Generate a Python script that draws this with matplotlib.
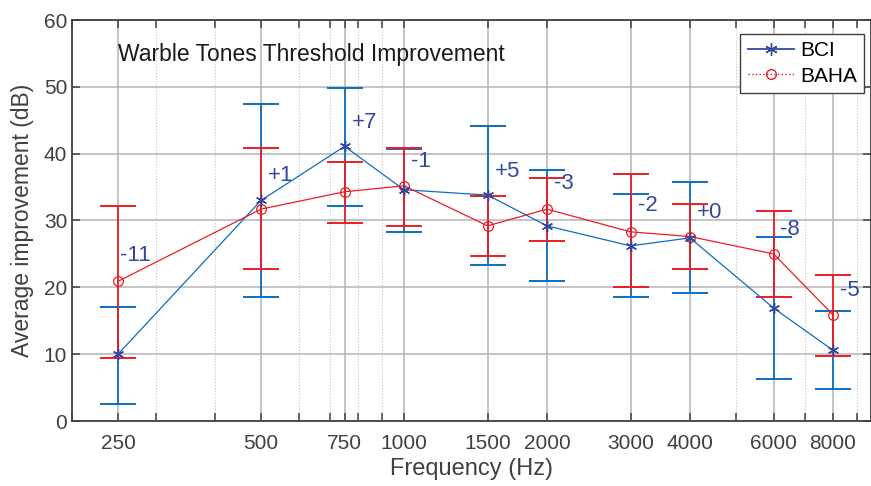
import numpy as np
import matplotlib
matplotlib.use('Agg')
import matplotlib.pyplot as plt
from matplotlib.lines import Line2D
from matplotlib.ticker import FixedLocator, NullFormatter, LogLocator

plt.rcParams['font.family'] = ['Liberation Sans', 'DejaVu Sans']

# data
freq = np.array([250, 500, 750, 1000, 1500, 2000, 3000, 4000, 6000, 8000])
bci = np.array([10.0, 33.0, 41.1, 34.6, 33.8, 29.2, 26.2, 27.4, 16.9, 10.6])
bci_hi = np.array([17.1, 47.5, 49.9, 40.7, 44.2, 37.5, 33.9, 35.8, 27.6, 16.5])
bci_lo = np.array([2.6, 18.6, 32.2, 28.3, 23.4, 20.9, 18.5, 19.1, 6.3, 4.8])
baha = np.array([20.9, 31.7, 34.3, 35.2, 29.2, 31.7, 28.3, 27.6, 25.0, 15.9])
baha_hi = np.array([32.2, 40.8, 38.7, 40.9, 33.7, 36.4, 36.9, 32.4, 31.4, 21.9])
baha_lo = np.array([9.5, 22.8, 29.7, 29.2, 24.7, 27.0, 20.0, 22.8, 18.6, 9.8])
diff_labels = ['-11', '+1', '+7', '-1', '+5', '-3', '-2', '+0', '-8', '-5']
label_y = [24.8, 36.8, 44.6, 38.8, 37.4, 35.6, 32.3, 31.2, 28.7, 19.5]

blue = '#0a6fc0'
navy = '#34479e'
red = '#ee1c24'
axcol = '#404040'
asterisk = (6, 2, 0)

fig = plt.figure(figsize=(8.71, 4.86), dpi=100)
ax = fig.add_axes([72/871, 1-421/486, 798.5/871, 401/486])
ax.set_xscale('log')
ax.set_xlim(200, 9600)
ax.set_ylim(0, 60)

ax.grid(True, which='major', color='#b4b4b8', lw=1.1, ls='-')
ax.grid(True, which='minor', color='#c4c4c8', lw=0.8, ls=':')
ax.set_axisbelow(True)

# BCI
ax.errorbar(freq, bci, yerr=[bci - bci_lo, bci_hi - bci], fmt='none',
            ecolor=blue, elinewidth=1.3, capsize=13, capthick=1.4, zorder=3)
ax.plot(freq, bci, color=blue, lw=0.9, zorder=4)
ax.plot(freq, bci, ls='none', marker=asterisk, ms=8, mew=1.0, color=navy, zorder=5)

# BAHA
ax.errorbar(freq, baha, yerr=[baha - baha_lo, baha_hi - baha], fmt='none',
            ecolor=red, elinewidth=1.3, capsize=13, capthick=1.4, zorder=3.5)
ax.plot(freq, baha, color=red, lw=0.9, marker='o', ms=7, mfc='none',
        mec=red, mew=0.9, zorder=4.5)

for i, (f, t, y) in enumerate(zip(freq, diff_labels, label_y)):
    dx = 1.5 if i == 0 else 5
    ax.annotate(t, (f, y), xytext=(dx, 0), textcoords='offset points',
                ha='left', va='center', fontsize=16, color=navy, zorder=6)

ax.text((118 - 72) / 798.5, (421 - 55) / 401, 'Warble Tones Threshold Improvement',
        transform=ax.transAxes, ha='left', va='center', fontsize=16.5, color='#1a1a1a')

ax.xaxis.set_major_locator(FixedLocator(freq))
ax.set_xticklabels([str(f) for f in freq])
ax.xaxis.set_minor_locator(LogLocator(base=10, subs=np.arange(2, 10)))
ax.xaxis.set_minor_formatter(NullFormatter())
ax.set_yticks(np.arange(0, 61, 10))

ax.tick_params(which='both', direction='in', top=True, right=True,
               length=6, width=1.1, color=axcol, labelcolor=axcol, labelsize=15)
ax.tick_params(axis='x', pad=9)
for s in ax.spines.values():
    s.set_color(axcol)
    s.set_linewidth(1.3)

ax.set_xlabel('Frequency (Hz)', fontsize=17, color=axcol, labelpad=4)
ax.set_ylabel('Average improvement (dB)', fontsize=16.5, color=axcol, labelpad=7)

handles = [Line2D([], [], color=navy, lw=1.3, marker=asterisk, ms=9, mew=1.0),
           Line2D([], [], color=red, lw=1.0, ls=':', marker='o', ms=7, mfc='none')]
leg = ax.legend(handles, ['BCI', 'BAHA'], loc='upper right',
                bbox_to_anchor=((864 - 72) / 798.5, (421 - 34) / 401),
                borderaxespad=0, fontsize=15, fancybox=False, framealpha=1,
                edgecolor=axcol, handlelength=2.2, handletextpad=0.3,
                borderpad=0.35, labelspacing=0.3)
leg.get_frame().set_linewidth(1.0)

fig.savefig('out.png', dpi=100)
